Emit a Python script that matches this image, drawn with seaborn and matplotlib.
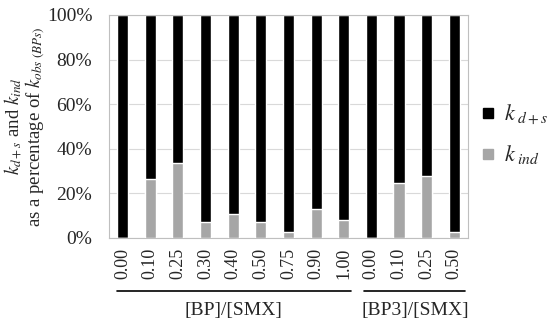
import pandas as pd
import matplotlib.pyplot as plt
import seaborn as sns
from matplotlib.lines import Line2D

# =========================
# DATA
# =========================

groups = ["[BP]/[SMX]"] * 9 + ["[BP3]/[SMX]"] * 4
ratios = ["0.00", "0.10", "0.25", "0.30", "0.40", "0.50", "0.75", "0.90", "1.00",
          "0.00", "0.10", "0.25", "0.50"]
k_ind = [0.0, 26.5, 33.6, 7.3, 10.9, 7.3, 2.5, 12.9, 8.2,
         0.0, 24.7, 27.7, 2.8]
k_total = [100] * 13

df = pd.DataFrame({
    "pos": [f"{g} {r}" for g, r in zip(groups, ratios)],
    "ratio": ratios,
    "k_ind": k_ind,
    "total": k_total,
})

# =========================
# STYLE
# =========================

sns.set_style("white")
plt.rcParams["font.family"] = ["Liberation Serif", "DejaVu Serif"]
plt.rcParams["mathtext.fontset"] = "stix"

fig = plt.figure(figsize=(5.5, 3.26), dpi=100)
ax = fig.add_axes([0.198, 0.270, 0.653, 0.684])

# stacked bars: full height black, k_ind grey on top of it
sns.barplot(x="pos", y="total", data=df, color="black", width=0.4,
            saturation=1, ax=ax, zorder=2)
sns.barplot(x="pos", y="k_ind", data=df, color="#a6a6a6", width=0.4,
            saturation=1, ax=ax, zorder=3)

ax.set_ylim(0, 100)
ax.set_xlim(-0.5, len(df) - 0.5)
ax.set_yticks([0, 20, 40, 60, 80, 100])
ax.set_yticklabels(["0%", "20%", "40%", "60%", "80%", "100%"], fontsize=14)
ax.set_xticks(range(len(df)))
ax.set_xticklabels(df["ratio"], rotation=90, fontsize=13)
ax.tick_params(axis="x", length=0, pad=7)
ax.tick_params(axis="y", length=0, pad=12)
ax.grid(axis="y", color="#d9d9d9", linewidth=0.8, zorder=0)
ax.set_axisbelow(True)
for s in ax.spines.values():
    s.set_color("#bfbfbf")
    s.set_linewidth(0.8)

ax.set_xlabel("")
ax.set_ylabel("$k_{d+s}$ and $k_{ind}$\nas a percentage of $k_{obs\\ (BPs)}$",
              fontsize=13.5, linespacing=0.95)
ax.yaxis.set_label_coords(-0.172, 0.5)

# =========================
# GROUP LABELS UNDER THE AXIS
# =========================

trans = ax.get_xaxis_transform()
for name, x0, x1 in [("[BP]/[SMX]", -0.2, 8.25), ("[BP3]/[SMX]", 8.75, 12.4)]:
    ax.plot([x0, x1], [-0.237, -0.237], color="black", linewidth=1.2,
            transform=trans, clip_on=False)
    ax.text((x0 + x1) / 2, -0.285, name, transform=trans, ha="center",
            va="top", fontsize=14)

# =========================
# LEGEND
# =========================

handles = [
    Line2D([], [], marker="s", color="black", linestyle="", markersize=7),
    Line2D([], [], marker="s", color="#a6a6a6", linestyle="", markersize=7),
]
fig.legend(handles, ["$k_{\\ d+s}$", "$k_{\\ ind}$"], loc="center left",
           bbox_to_anchor=(0.872, 0.588), frameon=False, fontsize=16,
           handletextpad=0.3, labelspacing=0.75, handlelength=0.8,
           borderpad=0, borderaxespad=0)

plt.savefig("out.png", dpi=100)
